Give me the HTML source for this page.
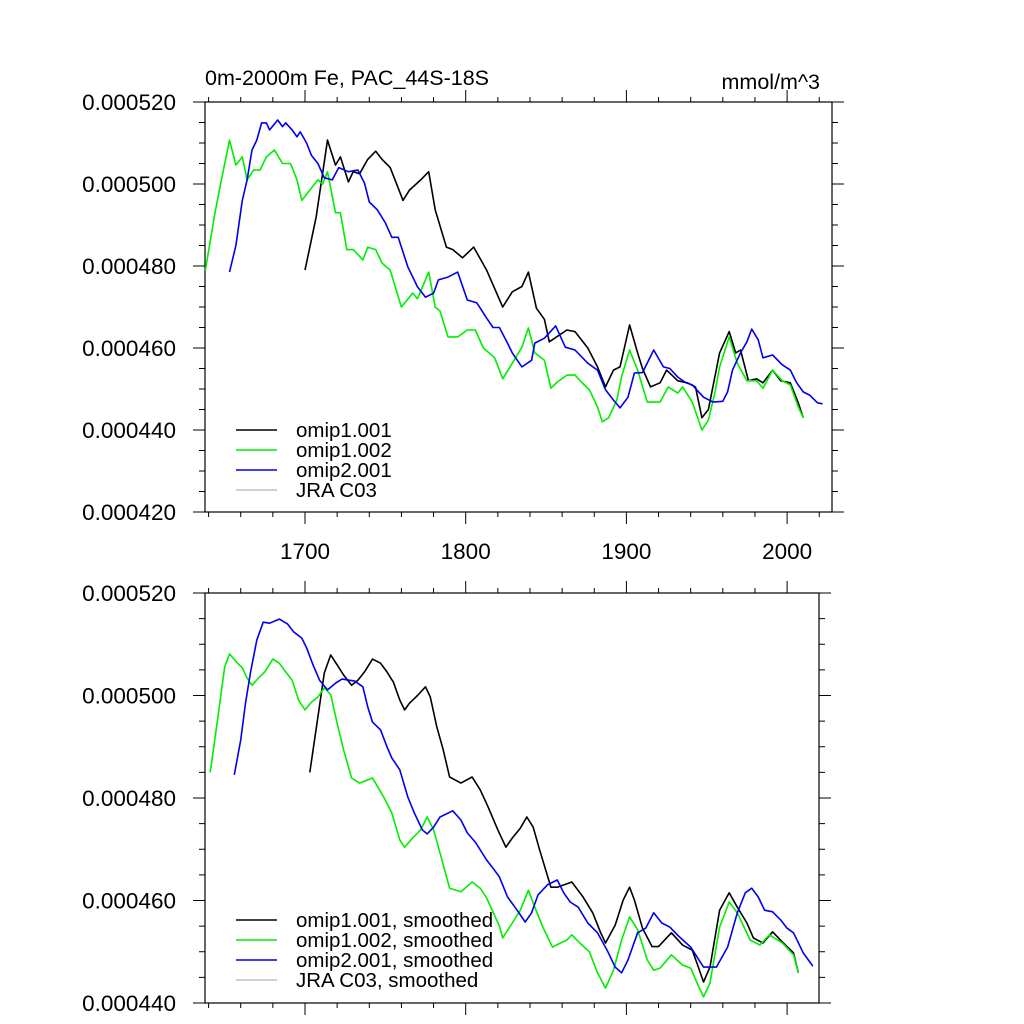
<!DOCTYPE html>
<html><head><meta charset="utf-8">
<style>
html,body{margin:0;padding:0;background:#fff;}
svg{display:block;font-family:"Liberation Sans",sans-serif;}
</style></head>
<body>
<svg id="chart" width="1024" height="1024" viewBox="0 0 1024 1024" xmlns="http://www.w3.org/2000/svg">
<rect width="1024" height="1024" fill="#fff"/>
<text x="205" y="85" font-size="21.5">0m-2000m Fe, PAC_44S-18S</text>
<text x="820" y="89" font-size="21.5" text-anchor="end">mmol/m^3</text>
<g id="top"></g>
<g id="bottom"></g>
</svg>
<script>
// ---- data (values in 1e-6 mmol/m^3) ----
const yearTicks = [1700, 1800, 1900, 2000];
const topYTicks = [520, 500, 480, 460, 440, 420];
const botYTicks = [520, 500, 480, 460, 440];
const seriesNames = ["omip1.001", "omip1.002", "omip2.001", "JRA C03"];
const seriesColors = ["#000000", "#00ee00", "#0000ee", "#c0c0c0"];

const rawBlackYears = [1700,1707,1714,1719,1722,1727,1730,1734,1739,1744,1748,1753,1758,1761,1765,1772,1777,1781,1788,1792,1798,1805,1813,1823,1829,1835,1839,1844,1849,1852,1863,1868,1876,1882,1887,1892,1896,1902,1907,1910,1915,1921,1925,1932,1938,1943,1947,1951,1958,1964,1968,1971,1976,1981,1985,1991,1996,2002,2007,2010];
const rawBlackVals = [479,492,510.7,504.6,506.6,500.5,503,502.5,506,508,506,504,499,496,498.5,501,503,493.7,484.6,484,482,484.6,479,470,473.7,475,478.5,469.7,467,461.5,464.4,464,460,455.4,450.5,454.6,455.4,465.6,458.8,455,450.5,451.5,454.6,452,451.5,450.5,443,445,458.8,464,458.8,459.5,452,452.5,451.5,454.6,452,451.5,446.6,443];

const rawGreenYears = [1638,1644,1648,1653,1657,1661,1664,1668,1672,1676,1681,1686,1691,1695,1698,1703,1708,1711,1714,1719,1722,1726,1730,1736,1739,1744,1748,1753,1760,1767,1770,1777,1781,1784,1789,1795,1801,1806,1811,1818,1821,1823,1829,1835,1839,1843,1849,1853,1857,1863,1868,1872,1877,1882,1885,1889,1894,1897,1902,1907,1913,1921,1926,1932,1935,1941,1947,1951,1955,1958,1964,1969,1975,1981,1985,1991,1997,2002,2007,2010];
const rawGreenVals = [479,493,501,510.7,504.6,506.6,501,503.4,503.4,506.6,508.3,505,505,501,496,498.5,501,500,503,493,493,484,484,481.5,484.6,484,480.7,479,470,473.4,472,478.5,470,469,462.7,462.7,464.4,464.4,460,457.6,454.6,452.5,456.3,460.2,464.9,458.8,457,450.2,451.7,453.4,453.4,451.7,449.8,445.6,442,443,447.3,453,459.5,454.6,446.8,446.8,450.5,449,450.5,446.8,440,442.4,449,455.4,462.7,456.3,452,452,450.2,454.6,452,451,445.6,443];

const rawBlueYears = [1653,1657,1661,1664,1667,1670,1673,1676,1678,1683,1686,1688,1692,1695,1697,1701,1704,1708,1712,1717,1721,1727,1733,1737,1740,1745,1750,1754,1758,1764,1770,1775,1780,1783,1789,1795,1801,1807,1813,1817,1821,1826,1829,1835,1841,1843,1849,1856,1862,1868,1876,1882,1887,1892,1896,1901,1905,1910,1917,1923,1927,1932,1937,1941,1948,1954,1960,1963,1966,1971,1975,1978,1982,1985,1991,1997,2002,2006,2010,2014,2019,2022];
const rawBlueVals = [478.5,485,496,501,508.3,510.7,514.9,514.9,513.2,515.6,514,514.9,513.2,511.5,512.7,510,507,505,501.5,501,504,503,503.4,500.2,495.6,493.7,490.5,487,487,479.8,474.9,472.4,473.4,476.6,477.3,478.5,471.7,471,467.3,465,465,461.2,458.8,455.4,457,461.2,462.4,465.4,460.2,459.5,456.3,454.6,449.8,447.3,445.4,448,453.9,454,459.5,455.4,455,452.9,451.5,451,448,446.8,447,449.3,454.6,458.8,461.5,464.6,462,457.6,458.3,455.9,454.6,451.5,449.3,448.5,446.6,446.4];

const smBlackYears = [1703,1708,1712,1716,1720,1724,1729,1733,1737,1742,1747,1751,1755,1759,1762,1765,1770,1775,1778,1782,1786,1790,1797,1804,1809,1814,1820,1825,1829,1834,1838,1842,1846,1853,1857,1866,1873,1879,1884,1887,1893,1898,1902,1905,1910,1916,1920,1928,1935,1941,1945,1948,1952,1958,1964,1969,1975,1979,1985,1991,1997,2004,2007];
const smBlackVals = [485,495.8,504.4,507.9,506,504,502,503,504.6,507.1,506.3,504.6,502.6,499.1,497.2,498.5,500,501.7,499.7,493.9,489.4,484.1,482.9,484.1,481.6,478.2,473.8,470.4,472.2,474.1,476.3,474.3,469.9,462.6,462.6,463.6,460.7,457.6,453.7,451.7,455.2,460.1,462.6,460.1,454.6,451,451,453.7,451.3,450.3,446.8,444.1,447,458.1,461.5,458.7,455.6,452.7,451.7,453.9,451.9,449.8,445.9];

const smGreenYears = [1641,1645,1650,1653,1658,1661,1664,1667,1671,1675,1680,1684,1688,1692,1696,1700,1704,1708,1712,1716,1720,1724,1729,1734,1742,1749,1754,1759,1762,1767,1772,1776,1780,1784,1790,1797,1804,1809,1813,1821,1823,1829,1834,1839,1843,1848,1854,1859,1863,1866,1871,1877,1882,1887,1892,1897,1902,1907,1913,1917,1921,1928,1935,1940,1944,1948,1952,1958,1964,1969,1977,1983,1989,1997,2004,2007];
const smGreenVals = [485,493.9,505.6,508.1,506.3,505.4,503.4,502,503.4,504.6,507.1,506.3,504.6,503,499.1,497.2,498.7,499.7,501.5,500.2,494.6,489.4,483.9,482.9,483.9,480.2,477.1,471.8,470.4,472.2,473.8,476.3,473.8,469.3,462.4,461.7,463.6,462.4,460.5,455,452.7,455.6,458.1,462,458.7,454.8,450.9,451.7,452.3,453.3,451.7,450,445.9,442.9,446.4,452.3,456.8,454.3,448.4,446.4,446.8,449.4,447.4,446.8,443.9,441.2,443.9,454.8,459.7,457.6,452.3,451.3,453.3,451.7,449.4,445.9];

const smBlueYears = [1656,1660,1663,1666,1670,1674,1678,1684,1689,1693,1698,1701,1705,1709,1714,1719,1723,1731,1736,1739,1742,1747,1751,1754,1759,1764,1768,1773,1776,1780,1784,1792,1797,1801,1806,1813,1817,1821,1826,1832,1837,1841,1845,1851,1857,1861,1865,1870,1876,1882,1888,1893,1897,1901,1907,1912,1917,1922,1927,1933,1940,1948,1956,1963,1969,1974,1978,1982,1986,1991,1996,2000,2004,2010,2016];
const smBlueVals = [484.5,491.3,498.5,504.4,510.8,514.3,514.1,514.9,514,512.4,511.2,509.3,506,503,501.1,502.4,503.2,502.8,501.7,497.8,494.8,493.3,490,487.8,485.5,480.2,477.1,473.8,473,474.3,476.3,477.5,475.7,473.2,471.4,467.9,466.3,464.6,460.7,458.1,455.8,457.6,461.1,463.1,464,461.5,459.7,458.7,455.6,453.7,450.3,447,445.9,448.4,453.7,454.6,457.6,455.6,454.8,452.9,450.9,447,447,450.9,457.6,461.5,462.4,460.7,458.1,457.8,456.2,454.6,453.7,449.8,447.2];

const NS = "http://www.w3.org/2000/svg";
function mk(parent, tag, attrs) {
  const e = document.createElementNS(NS, tag);
  for (const k in attrs) e.setAttribute(k, attrs[k]);
  parent.appendChild(e);
  return e;
}
const xScale = yr => 305 + (yr - 1700) * 1.607;

function panel(g, cfg) {
  const yScale = v => cfg.top + (cfg.ymax - v) * cfg.pxPerUnit;
  const L = 205, R = cfg.right, T = cfg.top, B = yScale(cfg.ymin);
  const frame = mk(g, "rect", {x: L, y: T, width: R - L, height: B - T, fill: "none", stroke: "#000", "stroke-width": 1.2});
  
  
  for (let v = cfg.ymin; v <= cfg.ymax + 0.001; v += 5) {
    const major = Math.abs(v % 20) < 0.01;
    const len = major ? 12 : 6;
    const y = yScale(v);
    const t1 = mk(g, "line", {x1: L - len, x2: L, y1: y, y2: y, stroke: "#000", "stroke-width": 1});
    
    
    const t2 = mk(g, "line", {x1: R, x2: R + len, y1: y, y2: y, stroke: "#000", "stroke-width": 1});
    
    
  }
  cfg.yTicks.forEach(v => {
    const t = mk(g, "text", {x: 176, y: yScale(v) + 8, "font-size": 22.5, "text-anchor": "end"});
    t.textContent = (v / 1e6).toFixed(6);
    
    
  });
  for (let yr = 1640; xScale(yr) <= R; yr += 20) {
    const major = yr % 100 === 0;
    const len = major ? 12 : 5;
    const x = xScale(yr);
    const a = mk(g, "line", {x1: x, x2: x, y1: T - len, y2: T, stroke: "#000", "stroke-width": 1});
    
    
    const b = mk(g, "line", {x1: x, x2: x, y1: B, y2: B + len, stroke: "#000", "stroke-width": 1});
    
    
  }
  if (cfg.xLabels) yearTicks.forEach(yr => {
    const t = mk(g, "text", {x: xScale(yr), y: B + 47, "font-size": 22.5, "text-anchor": "middle"});
    t.textContent = yr;
    
    
  });
  cfg.series.forEach((s, i) => {
    const pts = s.years.map((yr, j) => xScale(yr).toFixed(1) + "," + yScale(s.vals[j]).toFixed(1)).join(" ");
    const p = mk(g, "polyline", {points: pts, fill: "none", stroke: seriesColors[i], "stroke-width": 1.6, "stroke-linejoin": "round"});
    
    
  });
  seriesNames.forEach((n, i) => {
    const y = cfg.legendY + i * 20;
    const l = mk(g, "line", {x1: 236, x2: 277, y1: y, y2: y, stroke: seriesColors[i], "stroke-width": 1.5});
    
    
    const t = mk(g, "text", {x: 296, y: y + 7, "font-size": 20.5});
    t.textContent = n + cfg.suffix;
    
    
  });
}

panel(document.getElementById("top"), {
  name: "raw", top: 102, right: 832, ymax: 520, ymin: 420, pxPerUnit: 4.1,
  yTicks: topYTicks, xLabels: true, legendY: 430, suffix: "",
  series: [{years: rawBlackYears, vals: rawBlackVals}, {years: rawGreenYears, vals: rawGreenVals}, {years: rawBlueYears, vals: rawBlueVals}]
});
panel(document.getElementById("bottom"), {
  name: "smoothed", top: 593, right: 819, ymax: 520, ymin: 440, pxPerUnit: 5.125,
  yTicks: botYTicks, xLabels: false, legendY: 920, suffix: ", smoothed",
  series: [{years: smBlackYears, vals: smBlackVals}, {years: smGreenYears, vals: smGreenVals}, {years: smBlueYears, vals: smBlueVals}]
});
</script>
</body></html>
